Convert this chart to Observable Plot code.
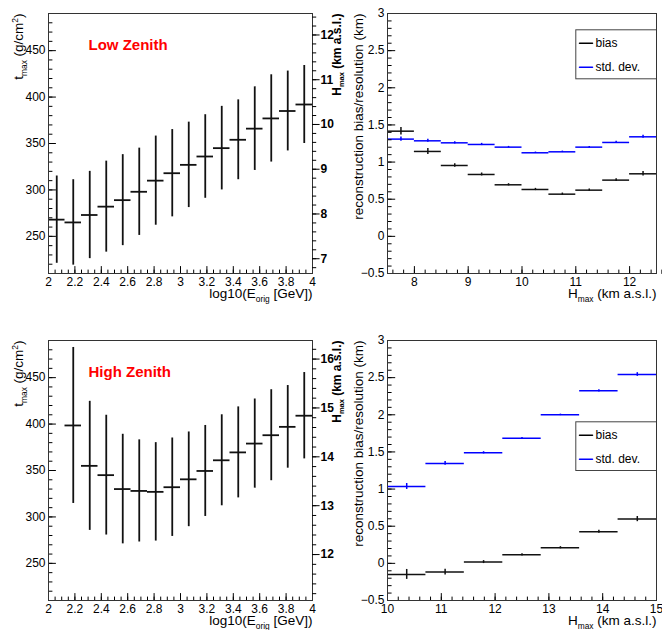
<!DOCTYPE html>
<html>
<head>
<meta charset="utf-8">
<script src="https://cdn.jsdelivr.net/npm/d3@7"></script>
<script src="https://cdn.jsdelivr.net/npm/@observablehq/plot@0.6"></script>
<style>
  body { margin: 0; background: #fff; }
  #chart { position: relative; width: 662px; height: 630px; overflow: hidden; background: #fff; }
  #chart > svg { position: absolute; }
</style>
</head>
<body>
<div id="chart"></div>
<script>
// ---------------- DATA ----------------
// Left panels: t_max vs log10(E_orig)
const lowZenithX   = [2.0625, 2.1875, 2.3125, 2.4375, 2.5625, 2.6875, 2.8125, 2.9375, 3.0625, 3.1875, 3.3125, 3.4375, 3.5625, 3.6875, 3.8125, 3.9375];
const lowZenithT   = [268, 265, 273, 282, 289, 298, 310, 318, 327, 336, 345, 354, 366, 377, 385, 392];
const lowZenithErr = [47, 46, 47, 49, 49, 47, 48, 47, 46, 45, 45, 43, 45, 47, 43, 42];
const lowZenithBinWidth = 0.125;

const highZenithX   = [2.1875, 2.3125, 2.4375, 2.5625, 2.6875, 2.8125, 2.9375, 3.0625, 3.1875, 3.3125, 3.4375, 3.5625, 3.6875, 3.8125, 3.9375];
const highZenithT   = [398.5, 355, 345, 330, 328, 327, 332, 340.5, 349.5, 361, 369.5, 379, 388, 397, 409];
const highZenithErr = [84, 69.5, 64.5, 59, 55, 53, 53, 51, 49, 49, 49, 48, 49, 44.5, 46.5];
const highZenithBinWidth = 0.125;

// Right panels: reconstruction bias / resolution vs H_max
const lowHmaxX       = [7.75, 8.25, 8.75, 9.25, 9.75, 10.25, 10.75, 11.25, 11.75, 12.25];
const lowBias        = [1.416, 1.143, 0.954, 0.833, 0.694, 0.631, 0.568, 0.622, 0.757, 0.842];
const lowBiasErr     = [0.05, 0.04, 0.025, 0.02, 0.015, 0.015, 0.015, 0.015, 0.02, 0.03];
const lowStd         = [1.309, 1.286, 1.259, 1.237, 1.201, 1.125, 1.138, 1.201, 1.264, 1.340];
const lowStdErr      = [0.03, 0.02, 0.015, 0.015, 0.01, 0.01, 0.01, 0.01, 0.015, 0.02];
const lowHmaxBinWidth = 0.5;

const highHmaxX      = [10.357, 11.071, 11.786, 12.5, 13.214, 13.929, 14.643];
const highBias       = [-0.149, -0.118, 0.017, 0.115, 0.21, 0.425, 0.596];
const highBiasErr    = [0.067, 0.04, 0.02, 0.015, 0.015, 0.02, 0.035];
const highStd        = [1.035, 1.345, 1.488, 1.685, 1.999, 2.322, 2.542];
const highStdErr     = [0.04, 0.025, 0.015, 0.01, 0.01, 0.015, 0.025];
const highHmaxBinWidth = 0.714;

// Tick labels / axes
const energyTicks   = [2, 2.2, 2.4, 2.6, 2.8, 3, 3.2, 3.4, 3.6, 3.8, 4];
const tmaxTicks     = [250, 300, 350, 400, 450];
const lowHTicks     = [7, 8, 9, 10, 11, 12];
const highHTicks    = [12, 13, 14, 15, 16];
const resTicks      = [-0.5, 0, 0.5, 1, 1.5, 2, 2.5, 3];
const lowHmaxTicks  = [8, 9, 10, 11, 12];
const highHmaxTicks = [10, 11, 12, 13, 14, 15];

const energyDomain = [2, 4];
const tmaxDomain = [210, 490];
const lowHDomain = [6.67, 12.48];
const highHDomain = [11.06, 16.38];
const resDomain = [-0.5, 3];
const lowHmaxDomain = [7.5, 12.5];
const highHmaxDomain = [10, 15];

const legendLabels = ["bias", "std. dev."];
const panelLabels = ["Low Zenith", "High Zenith"];

// ---------------- HELPERS ----------------
const FONT = '"Liberation Sans", Arial, Helvetica, sans-serif';
const chart = document.getElementById("chart");
const range = (a, b, s) => d3.range(Math.round(a / s), Math.round(b / s) + 1).map(k => +(k * s).toFixed(6));
const fmt = d => (d < 0 ? "\u2212" + String(-d) : String(d));

const tickShape = { draw(ctx, l) { ctx.moveTo(0, 0); ctx.lineTo(0, -l); } };
const vt = (values, opts) => Plot.vector(values, { anchor: "start", shape: tickShape, stroke: "#000", strokeWidth: 1, ...opts });
const ticksBottom = (vals, len) => vt(vals, { x: d => d, frameAnchor: "bottom", rotate: 0, length: len });
const ticksLeft = (vals, len) => vt(vals, { y: d => d, frameAnchor: "left", rotate: 90, length: len });
const ticksRight = (vals, len) => vt(vals, { y: d => d, frameAnchor: "right", rotate: 90, length: len });

function errRows(xs, ys, errs, bw) {
  return xs.map((x, i) => ({ x, y: ys[i], x1: x - bw / 2, x2: x + bw / 2, y1: ys[i] - errs[i], y2: ys[i] + errs[i] }));
}
function errMarks(rows, stroke, sw) {
  return [
    Plot.ruleY(rows, { y: "y", x1: "x1", x2: "x2", stroke, strokeWidth: sw }),
    Plot.ruleX(rows, { x: "x", y1: "y1", y2: "y2", stroke, strokeWidth: sw })
  ];
}

// Turn "_{..}" and "^{..}" into sub/superscript tspans
function rich(svg) {
  d3.select(svg).selectAll("text").each(function () {
    const s = this.textContent;
    if (!/[_^]\{/.test(s)) return;
    const sel = d3.select(this);
    sel.text(null);
    const re = /([_^])\{([^}]*)\}/g;
    let last = 0, m, shift = 0;
    while ((m = re.exec(s))) {
      if (m.index > last) {
        const t = sel.append("tspan").text(s.slice(last, m.index));
        if (shift) { t.attr("dy", `${-shift}em`); shift = 0; }
      }
      const off = m[1] === "_" ? 0.3 : -0.42;
      const sc = 0.62;
      sel.append("tspan").attr("font-size", `${sc}em`).attr("dy", `${(off - shift) / sc}em`).text(m[2]);
      shift = off;
      last = re.lastIndex;
    }
    if (last < s.length) {
      const t = sel.append("tspan").text(s.slice(last));
      if (shift) t.attr("dy", `${-shift}em`);
    }
  });
}

function place(opts, left, top, extraStyle = {}) {
  const svg = Plot.plot({
    ...opts,
    style: { background: "transparent", overflow: "visible", fontFamily: FONT, fontSize: "12px", color: "#000", ...extraStyle }
  });
  rich(svg);
  svg.style.left = left + "px";
  svg.style.top = top + "px";
  chart.appendChild(svg);
}

const W = 331, H = 300;
const leftMargins = { marginLeft: 48, marginRight: 19, marginTop: 13, marginBottom: 27 };
const rightMargins = { marginLeft: 56, marginRight: 6, marginTop: 13, marginBottom: 27 };

// ---------------- LEFT PANELS ----------------
function leftPanel(rows, label, hTicks, hDomain, top) {
  place({
    width: W, height: H, ...leftMargins,
    x: { domain: energyDomain },
    y: { domain: tmaxDomain },
    marks: [
      ...errMarks(rows, "#111", 1.8),
      ticksBottom(range(2, 4, 0.05), 3.5),
      ticksBottom(energyTicks, 7),
      ticksLeft(range(210, 490, 10), 3.5),
      ticksLeft(tmaxTicks, 7),
      Plot.axisX({ ticks: energyTicks, tickSize: 0, tickPadding: 4, tickFormat: fmt, label: null }),
      Plot.axisY({ ticks: tmaxTicks, tickSize: 0, tickPadding: 3, tickFormat: fmt, label: null }),
      Plot.text(["t_{max} (g/cm^{2})"], { frameAnchor: "top-left", dx: -29.5, rotate: -90, textAnchor: "end", lineAnchor: "middle", fontSize: 13.5 }),
      Plot.text(["log10(E_{orig} [GeV])"], { frameAnchor: "bottom-right", dy: 20, textAnchor: "end", lineAnchor: "middle", fontSize: 13.5 }),
      Plot.text([label], { frameAnchor: "top-left", dx: 40, dy: 32, textAnchor: "start", lineAnchor: "middle", fontSize: 15, fontWeight: "bold", fill: "#ff0000" }),
      Plot.frame({ stroke: "#333" })
    ]
  }, 0, top);
  // secondary H_max axis (right side)
  const lo = Math.ceil(hDomain[0] * 5) / 5, hi = Math.floor(hDomain[1] * 5) / 5;
  place({
    width: W, height: H, ...leftMargins,
    y: { domain: hDomain },
    marks: [
      ticksRight(range(lo, hi, 0.2), 3.3),
      ticksRight(hTicks, 6.7),
      Plot.axisY({ anchor: "right", ticks: hTicks, tickSize: 0, tickPadding: 8, tickFormat: fmt, label: null }),
      Plot.text(["H_{max} (km a.s.l.)"], { frameAnchor: "top-right", dx: 24.5, rotate: -90, textAnchor: "end", lineAnchor: "middle", fontSize: 12 })
    ]
  }, 0, top, { fontWeight: "bold" });
}

leftPanel(errRows(lowZenithX, lowZenithT, lowZenithErr, lowZenithBinWidth), panelLabels[0], lowHTicks, lowHDomain, 0);
leftPanel(errRows(highZenithX, highZenithT, highZenithErr, highZenithBinWidth), panelLabels[1], highHTicks, highHDomain, 327);

// ---------------- RIGHT PANELS ----------------
function rightPanel(biasRows, stdRows, xDomain, xTicks, legendTop, legendBottom, top) {
  const innerH = H - rightMargins.marginTop - rightMargins.marginBottom;
  place({
    width: W, height: H, ...rightMargins,
    x: { domain: xDomain },
    y: { domain: resDomain },
    marks: [
      ...errMarks(stdRows, "#0000ff", 1.5),
      ...errMarks(biasRows, "#111", 1.5),
      ticksBottom(range(xDomain[0], xDomain[1], 0.2).filter(v => v > xDomain[0]), 3.5),
      ticksBottom(xTicks, 7),
      ticksLeft(range(-0.5, 3, 0.1), 3.7),
      ticksLeft(resTicks, 7.3),
      Plot.axisX({ ticks: xTicks, tickSize: 0, tickPadding: 4, tickFormat: fmt, label: null }),
      Plot.axisY({ ticks: resTicks, tickSize: 0, tickPadding: 3, tickFormat: fmt, label: null }),
      Plot.text(["reconstruction bias/resolution (km)"], { frameAnchor: "top-left", dx: -28.5, rotate: -90, textAnchor: "end", lineAnchor: "middle", fontSize: 13.5 }),
      Plot.text(["H_{max} (km a.s.l.)"], { frameAnchor: "bottom-right", dy: 20, textAnchor: "end", lineAnchor: "middle", fontSize: 13.5 }),
      // legend
      Plot.frame({ insetLeft: 188.3, insetTop: legendTop, insetBottom: innerH - legendBottom, fill: "#fff", stroke: "#444" }),
      vt([0], { frameAnchor: "top-left", dx: 192, dy: legendTop + 13.4, rotate: 90, length: 13, stroke: "#000", strokeWidth: 1.5 }),
      vt([0], { frameAnchor: "top-left", dx: 192, dy: legendTop + 37.5, rotate: 90, length: 13, stroke: "#0000ff", strokeWidth: 1.5 }),
      Plot.text([legendLabels[0]], { frameAnchor: "top-left", dx: 208, dy: legendTop + 13.4, textAnchor: "start", lineAnchor: "middle", fontSize: 12 }),
      Plot.text([legendLabels[1]], { frameAnchor: "top-left", dx: 208, dy: legendTop + 37.5, textAnchor: "start", lineAnchor: "middle", fontSize: 12 }),
      Plot.frame({ stroke: "#333" })
    ]
  }, 331, top);
}

rightPanel(
  errRows(lowHmaxX, lowBias, lowBiasErr, lowHmaxBinWidth),
  errRows(lowHmaxX, lowStd, lowStdErr, lowHmaxBinWidth),
  lowHmaxDomain, lowHmaxTicks, 16.3, 65.3, 0
);
rightPanel(
  errRows(highHmaxX, highBias, highBiasErr, highHmaxBinWidth),
  errRows(highHmaxX, highStd, highStdErr, highHmaxBinWidth),
  highHmaxDomain, highHmaxTicks, 81.3, 130, 327
);
</script>
</body>
</html>
